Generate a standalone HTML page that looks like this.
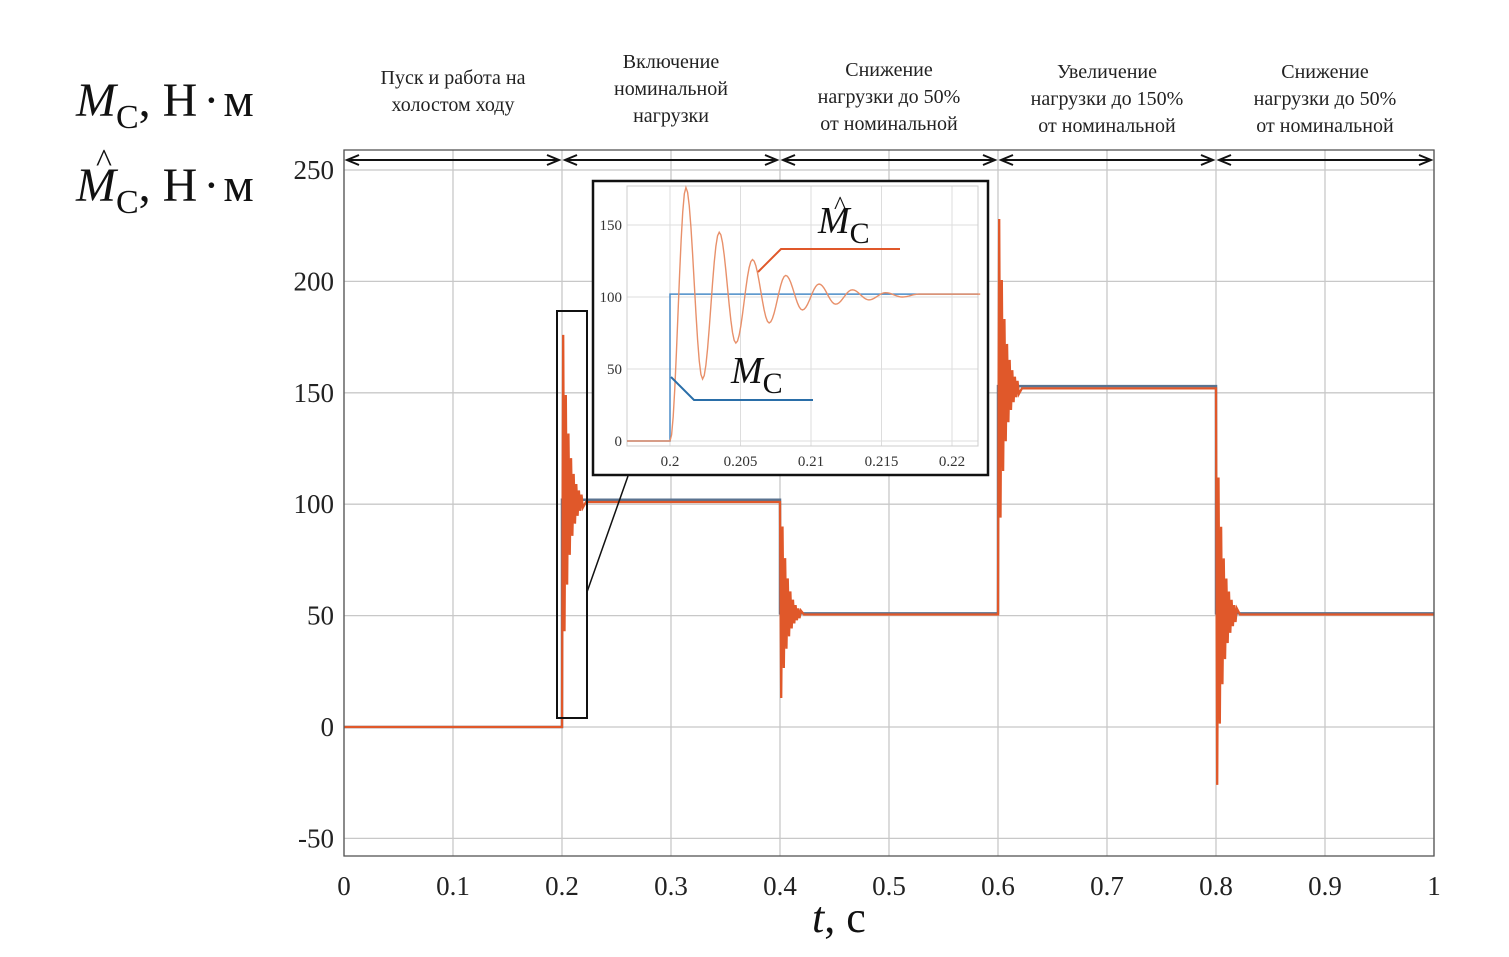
<!DOCTYPE html>
<html><head><meta charset="utf-8"><style>
body{margin:0;background:#fff}
svg{display:block;font-family:"Liberation Serif","DejaVu Serif",serif}
</style></head><body>
<svg id="c" width="1509" height="957" viewBox="0 0 1509 957" xmlns="http://www.w3.org/2000/svg">
<g id="grid"></g>
<g id="series"></g>
<g id="axes"></g>
<g id="inset"></g>
<g font-size="48" fill="#111">
<text x="76" y="116"><tspan font-style="italic">M</tspan><tspan font-size="34" dy="12">C</tspan><tspan dy="-12">, Н</tspan><tspan dx="6">·</tspan><tspan dx="4">м</tspan></text>
<text x="76" y="201"><tspan font-style="italic">M</tspan><tspan font-size="34" dy="12">C</tspan><tspan dy="-12">, Н</tspan><tspan dx="6">·</tspan><tspan dx="4">м</tspan></text>
<text x="96" y="172" font-size="34">^</text>
</g>
<text x="812" y="932" font-size="44" fill="#111"><tspan font-style="italic">t</tspan>,  с</text>
</svg>
<script>
const xTicks=[0,0.1,0.2,0.3,0.4,0.5,0.6,0.7,0.8,0.9,1];
const xTickLabels=["0","0.1","0.2","0.3","0.4","0.5","0.6","0.7","0.8","0.9","1"];
const yTicks=[-50,0,50,100,150,200,250];
const stepTimes=[0,0.2,0.4,0.6,0.8,1];
const loadLevels=[0,102,51,153,51];
const estimateLevels=[0,101,50.5,152,50.5];
const transientMax=[176,90,228,112];
const transientMin=[43,13,94,-26];
const phaseLabels=["Пуск и работа на|холостом ходу","Включение|номинальной|нагрузки","Снижение|нагрузки до 50%|от номинальной","Увеличение|нагрузки до 150%|от номинальной","Снижение|нагрузки до 50%|от номинальной"];
const insetXTicks=[0.2,0.205,0.21,0.215,0.22];
const insetYTicks=[0,50,100,150];
const insetPeaks=[176,43,145,68,126,82,115,91,109,95,105,98,103,100,102];

const NS="http://www.w3.org/2000/svg";
function mk(p,t,a){const e=document.createElementNS(NS,t);for(const k in a)e.setAttribute(k,a[k]);p.appendChild(e);return e;}
const X=v=>344+v*1090, Y=v=>727-v*2.228;
const g=document.getElementById('grid'),s=document.getElementById('series'),ax=document.getElementById('axes'),ins=document.getElementById('inset');
xTicks.forEach((t,i)=>{
 const l=mk(g,'line',{x1:X(t),x2:X(t),y1:150,y2:856,stroke:'#c8c8c8','stroke-width':1.3});
 
 const tx=mk(ax,'text',{x:X(t),y:895,'font-size':27,'text-anchor':'middle',fill:'#222'});tx.textContent=xTickLabels[i];
 
});
yTicks.forEach(t=>{
 const l=mk(g,'line',{x1:344,x2:1434,y1:Y(t),y2:Y(t),stroke:'#c8c8c8','stroke-width':1.3});
 
 const tx=mk(ax,'text',{x:334,y:Y(t)+9,'font-size':27,'text-anchor':'end',fill:'#222'});tx.textContent=t;
 
});
const fr=mk(ax,'rect',{x:344,y:150,width:1090,height:706,fill:'none',stroke:'#555','stroke-width':1.3});

let d='M'+X(0)+','+Y(loadLevels[0]);
loadLevels.forEach((v,i)=>{d+=' L'+X(stepTimes[i])+','+Y(v)+' L'+X(stepTimes[i+1])+','+Y(v);});
const ref=mk(s,'path',{d:d,fill:'none',stroke:'#5a7390','stroke-width':2.5});

let e='M'+X(0)+','+Y(estimateLevels[0]);
for(let i=1;i<estimateLevels.length;i++){
 const t0=stepTimes[i],lv=estimateLevels[i];
 e+=' L'+X(t0)+','+Y(estimateLevels[i-1]);
 const up=lv>estimateLevels[i-1];
 let a1=(up?transientMax[i-1]:transientMin[i-1])-lv, a2=(up?transientMin[i-1]:transientMax[i-1])-lv;
 for(let k=0;k<16;k++){
  const tt=t0+0.0012*k+0.0011;
  const amp=(k%2===0?a1:a2)*Math.pow(0.8,Math.floor(k/2)*2);
  e+=' L'+X(tt)+','+Y(lv+amp);
 }
 e+=' L'+X(t0+0.022)+','+Y(lv)+' L'+X(stepTimes[i+1])+','+Y(lv);
}
const est=mk(s,'path',{d:e,fill:'none',stroke:'#e0582a','stroke-width':2.3});

phaseLabels.forEach((p,i)=>{
 const x1=X(stepTimes[i])+3,x2=X(stepTimes[i+1])-3,cx=(x1+x2)/2;
 const a=mk(ax,'path',{d:`M${x1},160 L${x2},160 M${x1+12},155 L${x1},160 L${x1+12},165 M${x2-12},155 L${x2},160 L${x2-12},165`,stroke:'#111','stroke-width':2,fill:'none'});
 
 const lines=p.split('|');const y0=lines.length===2?84:[68,68,76,78,78][i];
 lines.forEach((ln,j)=>{const t=mk(ax,'text',{x:cx,y:y0+j*27,'font-size':20,'text-anchor':'middle',fill:'#222'});t.textContent=ln;
 });
});
const zr=mk(ins,'rect',{x:557,y:311,width:30,height:407,fill:'none',stroke:'#111','stroke-width':2});

mk(ins,'line',{x1:587,y1:592,x2:628,y2:476,stroke:'#111','stroke-width':1.5});
const ib=mk(ins,'rect',{x:593,y:181,width:395,height:294,fill:'#fff',stroke:'#111','stroke-width':2.5});

const IX=v=>670+(v-0.2)*14100, IY=v=>441-v*1.44;
insetXTicks.forEach(t=>{mk(ins,'line',{x1:IX(t),x2:IX(t),y1:186,y2:446,stroke:'#ddd'});
 const tx=mk(ins,'text',{x:IX(t),y:466,'font-size':15,'text-anchor':'middle',fill:'#333'});tx.textContent=t;
 });
insetYTicks.forEach(t=>{mk(ins,'line',{x1:627,x2:978,y1:IY(t),y2:IY(t),stroke:'#ddd'});
 const tx=mk(ins,'text',{x:622,y:IY(t)+5,'font-size':15,'text-anchor':'end',fill:'#333'});tx.textContent=t;
 });
mk(ins,'rect',{x:627,y:186,width:351,height:260,fill:'none',stroke:'#ccc'});
const ir=mk(ins,'path',{d:`M627,${IY(0)} L${IX(0.2)},${IY(0)} L${IX(0.2)},${IY(102)} L978,${IY(102)}`,fill:'none',stroke:'#4a8cc8','stroke-width':1.5});

let id=`M627,${IY(0)} L${IX(0.2)},${IY(0)}`;
const pts=[[0.2,0]];insetPeaks.forEach((v,k)=>pts.push([0.20113+k*0.00118,v]));pts.push([0.222,102]);
for(let k=1;k<pts.length;k++){const [t0,v0]=pts[k-1],[t1,v1]=pts[k];for(let j=1;j<=10;j++){const f=j/10,c=(1-Math.cos(Math.PI*f))/2;id+=` L${IX(t0+(t1-t0)*f)},${IY(v0+(v1-v0)*c)}`;}}
const ie=mk(ins,'path',{d:id,fill:'none',stroke:'#e8906a','stroke-width':1.4});

mk(ins,'path',{d:'M758,272 L781,249 L900,249',stroke:'#e0582a','stroke-width':2,fill:'none'});
mk(ins,'path',{d:'M671,377 L694,400 L813,400',stroke:'#2a6ea8','stroke-width':2,fill:'none'});
const l1=mk(ins,'text',{x:818,y:233,'font-size':38,fill:'#111'});l1.innerHTML='<tspan font-style="italic">M</tspan><tspan font-size="30" dy="10">C</tspan>';
mk(ins,'text',{x:834,y:214,'font-size':26,fill:'#111'}).textContent='^';

const l2=mk(ins,'text',{x:731,y:383,'font-size':38,fill:'#111'});l2.innerHTML='<tspan font-style="italic">M</tspan><tspan font-size="30" dy="10">C</tspan>';

</script>
</body></html>
